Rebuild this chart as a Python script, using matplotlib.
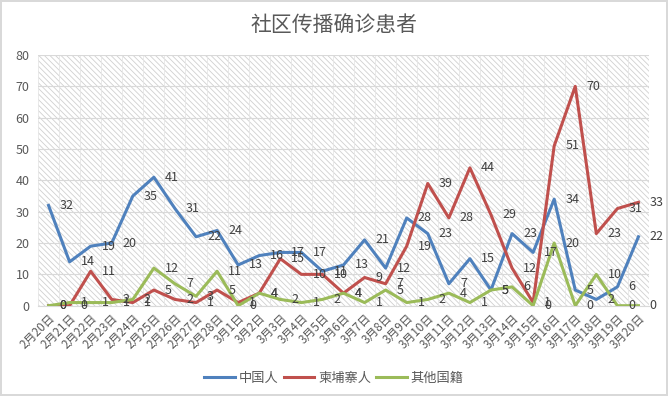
import numpy as np
import matplotlib
matplotlib.use('Agg')
import matplotlib.pyplot as plt
from matplotlib.patches import Rectangle

plt.rcParams['font.family'] = ['Noto Sans CJK SC', 'DejaVu Sans']

# dates
dates = ['2月%d日' % d for d in range(20, 29)] + ['3月%d日' % d for d in range(1, 21)]

# daily counts
chinese = [32, 14, 19, 20, 35, 41, 31, 22, 24, 13, 16, 17, 17, 11, 13,
           21, 12, 28, 23, 7, 15, 5, 23, 17, 34, 5, 2, 6, 22]
cambodian = [0, 0, 11, 2, 1, 5, 2, 1, 5, 1, 4, 15, 10, 10, 4,
             9, 7, 19, 39, 28, 44, 29, 12, 1, 51, 70, 23, 31, 33]
others = [0, 1, 1, 1, 2, 12, 7, 3, 11, 0, 4, 2, 1, 2, 4,
          1, 5, 1, 2, 4, 1, 5, 6, 0, 20, 0, 10, 0, 0]

series = [('中国人', chinese, '#4F81BD'),
          ('柬埔寨人', cambodian, '#C0504D'),
          ('其他国籍', others, '#9BBB59')]

fig = plt.figure(figsize=(6.68, 3.96), dpi=100)
fig.patch.set_edgecolor('#d9d9d9')
fig.patch.set_linewidth(1.5)
ax = fig.add_axes([38/668, 90.3/396, 611/668, 250.7/396])

x = np.arange(len(dates))

#hatched background
plt.rcParams['hatch.linewidth'] = 0.6
bg = Rectangle((0, 0), 1, 1, transform=ax.transAxes, facecolor='white',
               edgecolor='#d0d0d0', hatch='\\\\\\\\\\\\', linewidth=0, zorder=0)
ax.add_patch(bg)

for name, vals, col in series:
    ax.plot(x, vals, color=col, lw=2.2, label=name, zorder=3)
    for xi, v in zip(x, vals):
        ax.annotate(str(v), (xi, v), xytext=(8, 0), textcoords='offset points',
                    ha='left', va='center', fontsize=9, color='#404040', zorder=4)

ax.set_xlim(-0.5, len(dates) - 0.5)
ax.set_ylim(0, 80)
ax.set_yticks(range(0, 81, 10))
ax.set_xticks(x)
ax.set_xticklabels(dates, rotation=45, ha='right', va='top', rotation_mode='anchor',
                   fontsize=8.5, color='#595959')
ax.tick_params(axis='y', labelsize=9, labelcolor='#595959', length=0, pad=6)
ax.tick_params(axis='x', length=0, pad=4)
ax.set_xticks(np.arange(-0.5, len(dates), 1), minor=True)
ax.tick_params(axis='x', which='minor', length=0)
ax.grid(True, axis='y', color='#d9d9d9', lw=0.8, zorder=1)
ax.grid(True, axis='x', which='minor', color='#e6e6e6', lw=0.6, zorder=1)
for s in ['top', 'right', 'left']:
    ax.spines[s].set_visible(False)
ax.spines['bottom'].set_color('#d9d9d9')

fig.text(0.5, 1 - 25/396, '社区传播确诊患者', ha='center', va='center',
         fontsize=15, color='#595959')

fig.legend(loc='center', bbox_to_anchor=(0.5, 1 - 378/396), ncol=3, frameon=False,
           fontsize=9.5, handlelength=2.3, handletextpad=0.3, columnspacing=0.4,
           labelcolor='#595959')

fig.savefig('out.png', dpi=100)
